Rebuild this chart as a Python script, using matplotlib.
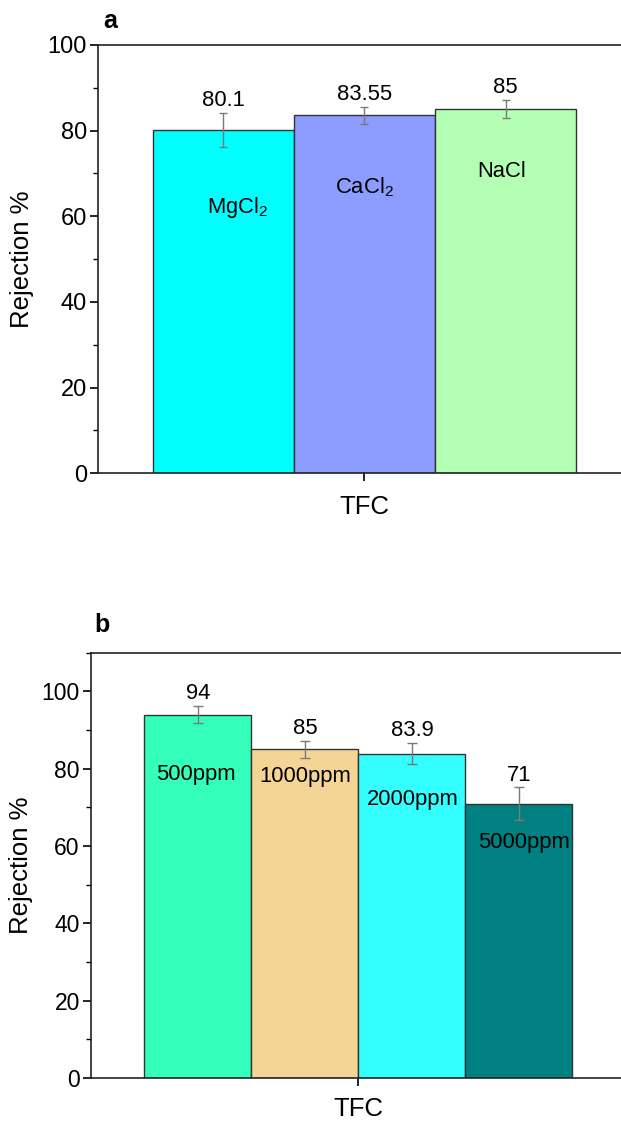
import matplotlib
matplotlib.use("Agg")
import matplotlib.pyplot as plt
from matplotlib.ticker import MultipleLocator

plt.rcParams['font.family'] = ['Liberation Sans', 'DejaVu Sans']
plt.rcParams['mathtext.fontset'] = 'custom'
plt.rcParams['mathtext.rm'] = 'Liberation Sans'
plt.rcParams['mathtext.it'] = 'Liberation Sans'
plt.rcParams['mathtext.bf'] = 'Liberation Sans:bold'
plt.rcParams['mathtext.default'] = 'regular'

# ---- data panel a ----
salts = ['MgCl$_2$', 'CaCl$_2$', 'NaCl']
salt_rejection = [80.1, 83.55, 85]
salt_error = [4.0, 1.95, 2.15]
salt_value_labels = ['80.1', '83.55', '85']
salt_colors = ['#00FFFF', '#8C9CFF', '#B3FFB3']

# ---- data panel b ----
concs = ['500ppm', '1000ppm', '2000ppm', '5000ppm']
conc_rejection = [94, 85, 83.9, 71]
conc_error = [2.3, 2.2, 2.7, 4.3]
conc_value_labels = ['94', '85', '83.9', '71']
conc_colors = ['#33FFBB', '#F5D596', '#33FFFF', '#008080']

group_label = 'TFC'
ylabel = 'Rejection %'

fig = plt.figure(figsize=(6.21, 11.26), dpi=100)

def style_axes(ax, tick_fs, xpad):
    for s in ['left', 'bottom', 'top', 'right']:
        ax.spines[s].set_linewidth(1.2)
        ax.spines[s].set_color('#222222')
    ax.yaxis.set_major_locator(MultipleLocator(20))
    ax.yaxis.set_minor_locator(MultipleLocator(10))
    ax.tick_params(axis='y', which='major', direction='out', length=6, width=1.2, labelsize=tick_fs, pad=2)
    ax.tick_params(axis='y', which='minor', direction='out', length=3.5, width=1.0)
    ax.tick_params(axis='x', which='major', direction='out', length=6, width=1.2, labelsize=18.5, pad=xpad)
    ax.set_xticks([0])
    ax.set_xticklabels([group_label])
    ax.set_ylabel(ylabel, fontsize=18.5)

# ---- panel a ----
axa = fig.add_axes([0.1581, 0.5797, 0.8573, 0.3804])
xa = [-1, 0, 1]
axa.bar(xa, salt_rejection, width=1.0, color=salt_colors, edgecolor='#333333', linewidth=1.0)
axa.errorbar(xa, salt_rejection, yerr=salt_error, fmt='none', ecolor='#7a7a7a',
             elinewidth=1.0, capsize=3, capthick=1.0)
axa.set_xlim(-1.885, 1.885)
axa.set_ylim(0, 100)
style_axes(axa, 17, 10)
axa.yaxis.labelpad = 10
label_a_y = [62, 66.7, 70.5]
label_a_dx = [0.1, 0.0, -0.03]
value_a_y = [87, 88.5, 90]
for x, lab, ly, dx, vl, vy in zip(xa, salts, label_a_y, label_a_dx, salt_value_labels, value_a_y):
    axa.text(x + dx, ly, lab, ha='center', va='center', fontsize=15.8)
    axa.text(x, vy, vl, ha='center', va='center', fontsize=15.8)
fig.text(110 / 621, 1 - 21 / 1126, 'a', fontsize=18, fontweight='bold', ha='center', va='center')

# ---- panel b ----
axb = fig.add_axes([0.1465, 0.0426, 0.8615, 0.3777])
xb = [-1.5, -0.5, 0.5, 1.5]
axb.bar(xb, conc_rejection, width=1.0, color=conc_colors, edgecolor='#333333', linewidth=1.0)
axb.errorbar(xb, conc_rejection, yerr=conc_error, fmt='none', ecolor='#7a7a7a',
             elinewidth=1.0, capsize=3.5, capthick=1.0)
axb.set_xlim(-2.5, 2.5)
axb.set_ylim(0, 110)
style_axes(axb, 16.5, 8)
axb.yaxis.labelpad = 6
label_b_y = [78.4, 78.0, 72.1, 60.8]
label_b_dx = [-0.02, 0.0, 0.01, 0.05]
value_b_y = [99.4, 90.3, 89.8, 78.3]
for x, lab, ly, dx, vl, vy in zip(xb, concs, label_b_y, label_b_dx, conc_value_labels, value_b_y):
    axb.text(x + dx, ly, lab, ha='center', va='center', fontsize=15.8)
    axb.text(x, vy, vl, ha='center', va='center', fontsize=15.8)
fig.text(102 / 621, 1 - 625 / 1126, 'b', fontsize=18, fontweight='bold', ha='center', va='center')

fig.savefig('out.png', dpi=100)
